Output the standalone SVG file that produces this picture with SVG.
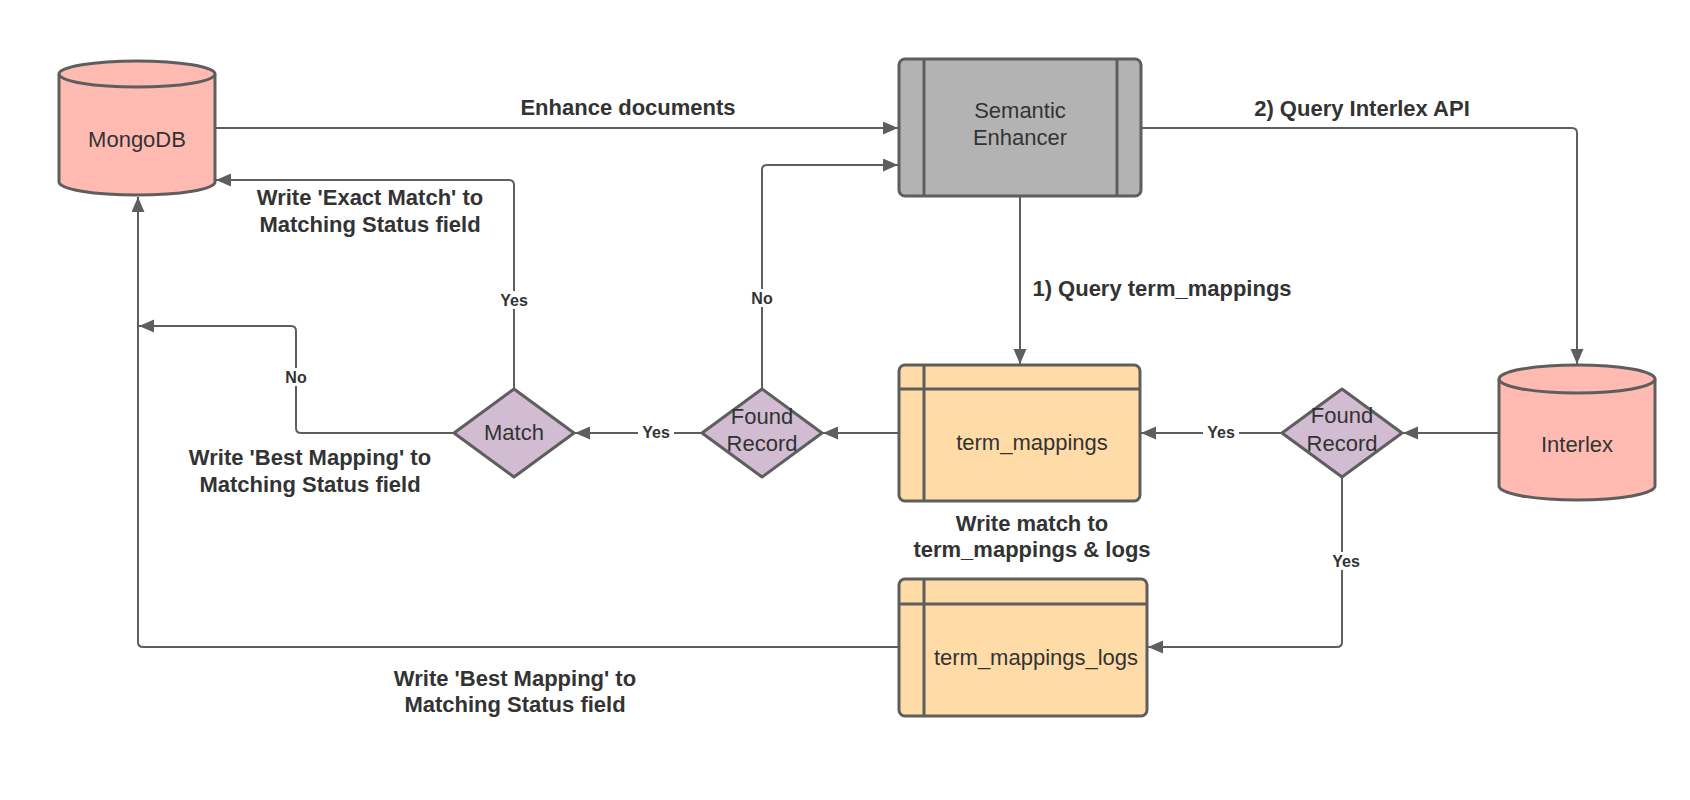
<svg xmlns="http://www.w3.org/2000/svg" width="1690" height="800" viewBox="0 0 1690 800">
<defs>
<marker id="arr" markerUnits="userSpaceOnUse" markerWidth="16" markerHeight="14" refX="15" refY="6.5" orient="auto">
<path d="M0,0 L15,6.5 L0,13 Z" fill="#5e5e5e"/>
</marker>
</defs>
<style>
.node{stroke:#5e5e5e;stroke-width:3;stroke-linejoin:round}
.db{fill:#ffbbb1}
.proc{fill:#b3b3b3}
.tbl{fill:#ffdba7}
.dec{fill:#d1bcd2}
.nt{font-family:"Liberation Sans",Arial,sans-serif;font-size:22px;fill:#333333;text-anchor:middle}
.conn{fill:none;stroke:#5e5e5e;stroke-width:2;marker-end:url(#arr)}
.lbl{font-family:"Liberation Sans",Arial,sans-serif;font-size:22px;font-weight:bold;fill:#333333;text-anchor:middle}
.sl{font-family:"Liberation Sans",Arial,sans-serif;font-size:16px;font-weight:bold;fill:#333333;text-anchor:middle}
.bg{fill:#ffffff}
</style>
<rect width="1690" height="800" fill="#ffffff"/>

<g id="connectors">
<path class="conn" d="M215,128 H898"/>
<path class="conn" d="M1141,128 H1572 Q1577,128 1577,133 V364"/>
<path class="conn" d="M1020,196 V364"/>
<path class="conn" d="M1499,433 H1403"/>
<path class="conn" d="M1282,433 H1141"/>
<path class="conn" d="M1342,477 V642 Q1342,647 1337,647 H1148"/>
<path class="conn" d="M899,433 H823"/>
<path class="conn" d="M702,433 H575"/>
<path class="conn" d="M762,389 V170 Q762,165 767,165 H898"/>
<path class="conn" d="M514,389 V185 Q514,180 509,180 H216"/>
<path class="conn" d="M454,433 H301 Q296,433 296,428 V331 Q296,326 291,326 H139"/>
<path class="conn" d="M899,647 H143 Q138,647 138,642 V197"/>
<g id="connector-labels">
<text class="lbl" x="628" y="115">Enhance documents</text>
<text class="lbl" x="1362" y="116">2) Query Interlex API</text>
<text class="lbl" x="1162" y="296">1) Query term_mappings</text>
<rect class="bg" x="1203" y="423" width="36" height="18"/>
<text class="sl" x="1221" y="438">Yes</text>
<rect class="bg" x="1328" y="552" width="36" height="18"/>
<text class="sl" x="1346" y="567">Yes</text>
<rect class="bg" x="638" y="423" width="36" height="18"/>
<text class="sl" x="656" y="438">Yes</text>
<rect class="bg" x="750" y="289" width="24" height="18"/>
<text class="sl" x="762" y="304">No</text>
<rect class="bg" x="496" y="291" width="36" height="18"/>
<text class="sl" x="514" y="306">Yes</text>
<rect class="bg" x="284" y="368" width="24" height="18"/>
<text class="sl" x="296" y="383">No</text>
<text class="lbl" x="370" y="205">Write 'Exact Match' to</text>
<text class="lbl" x="370" y="232">Matching Status field</text>
<text class="lbl" x="310" y="465">Write 'Best Mapping' to</text>
<text class="lbl" x="310" y="492">Matching Status field</text>
<text class="lbl" x="1032" y="531">Write match to</text>
<text class="lbl" x="1032" y="557">term_mappings &amp; logs</text>
<text class="lbl" x="515" y="686">Write 'Best Mapping' to</text>
<text class="lbl" x="515" y="712">Matching Status field</text>
</g>
</g>

<g id="mongodb">
<path class="node db" d="M59,74 A78,13 0 0 1 215,74 V182 A78,13 0 0 1 59,182 Z"/>
<path class="node" fill="none" d="M59,74 A78,13 0 0 0 215,74"/>
<text class="nt" x="137" y="147">MongoDB</text>
</g>

<g id="semantic-enhancer">
<rect class="node proc" x="899" y="59" width="242" height="137" rx="6"/>
<line class="node" x1="924" y1="59" x2="924" y2="196"/>
<line class="node" x1="1117" y1="59" x2="1117" y2="196"/>
<text class="nt" x="1020" y="118">Semantic</text>
<text class="nt" x="1020" y="145">Enhancer</text>
</g>

<g id="interlex">
<path class="node db" d="M1499,379 A78,14 0 0 1 1655,379 V486 A78,14 0 0 1 1499,486 Z"/>
<path class="node" fill="none" d="M1499,379 A78,14 0 0 0 1655,379"/>
<text class="nt" x="1577" y="452">Interlex</text>
</g>

<g id="term-mappings">
<rect class="node tbl" x="899" y="365" width="241" height="136" rx="6"/>
<line class="node" x1="899" y1="389" x2="1140" y2="389"/>
<line class="node" x1="924" y1="365" x2="924" y2="501"/>
<text class="nt" x="1032" y="450">term_mappings</text>
</g>

<g id="term-mappings-logs">
<rect class="node tbl" x="899" y="579" width="248" height="137" rx="6"/>
<line class="node" x1="899" y1="604" x2="1147" y2="604"/>
<line class="node" x1="924" y1="579" x2="924" y2="716"/>
<text class="nt" x="1036" y="665">term_mappings_logs</text>
</g>

<g id="found-record-right">
<polygon class="node dec" points="1342,389 1402,433 1342,477 1282,433"/>
<text class="nt" x="1342" y="423">Found</text>
<text class="nt" x="1342" y="451">Record</text>
</g>

<g id="found-record-left">
<polygon class="node dec" points="762,389 822,433 762,477 702,433"/>
<text class="nt" x="762" y="424">Found</text>
<text class="nt" x="762" y="451">Record</text>
</g>

<g id="match">
<polygon class="node dec" points="514,389 574,433 514,477 454,433"/>
<text class="nt" x="514" y="440">Match</text>
</g>
</svg>
